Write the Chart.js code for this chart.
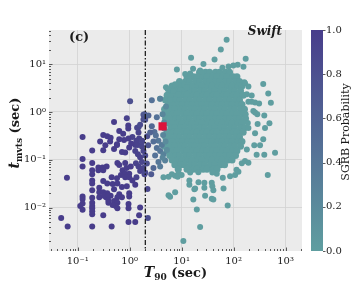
<!DOCTYPE html>
<html>
<head>
<meta charset="utf-8">
<script src="https://cdn.jsdelivr.net/npm/chart.js@4.4.1/dist/chart.umd.min.js"></script>
<style>
  html, body { margin: 0; padding: 0; background: #ffffff; }
  #wrap { width: 360px; height: 288px; }
</style>
</head>
<body>
<div id="wrap"><canvas id="chart" width="360" height="288"></canvas></div>
<script>
// T90 vs minimum variability timescale (Swift), coloured by SGRB probability

const xRange = [0.028, 2075];
const yRange = [0.00123, 52];
const xTicks = [0.1, 1, 10, 100, 1000];
const yTicks = [0.01, 0.1, 1, 10];
const cbTicks = [0, 0.2, 0.4, 0.6, 0.8, 1.0];
const t90Cut = 2;            // dash-dot line, seconds
const lowColor = [95, 158, 160];   // probability 0
const highColor = [72, 61, 139];   // probability 1

// short + transitional bursts: [T90, t_mvts, SGRB probability]
const shortBursts = [
  [1.02, 1.68, 0.8], [0.50, 0.62, 1], [0.88, 0.74, 0.95], [0.94, 0.52, 1], [0.94, 0.45, 1],
  [0.63, 0.40, 1], [0.75, 0.35, 1], [0.31, 0.33, 1], [0.37, 0.31, 1], [0.124, 0.30, 1],
  [0.43, 0.29, 1], [1.13, 0.30, 0.95], [1.48, 0.48, 0.85], [0.78, 0.26, 1], [0.95, 0.28, 1],
  [1.35, 0.25, 0.95], [0.19, 0.156, 1], [0.31, 0.159, 1], [0.50, 0.168, 1], [0.57, 0.204, 1],
  [0.71, 0.145, 1], [0.82, 0.141, 1], [0.98, 0.18, 1], [1.28, 0.204, 0.95], [1.28, 0.152, 0.95],
  [0.124, 0.104, 1], [0.19, 0.086, 1], [0.124, 0.072, 1], [0.25, 0.069, 1], [0.30, 0.069, 1],
  [0.36, 0.072, 1], [0.25, 0.060, 1], [0.31, 0.060, 1], [0.58, 0.086, 1], [0.63, 0.078, 1],
  [0.82, 0.086, 1], [0.73, 0.060, 1], [0.87, 0.067, 1], [1.05, 0.072, 1], [1.32, 0.084, 0.95],
  [0.19, 0.060, 1], [0.19, 0.050, 1], [0.19, 0.037, 1], [0.19, 0.032, 1], [0.45, 0.043, 1],
  [0.57, 0.041, 1], [0.68, 0.048, 1], [0.82, 0.051, 1], [0.98, 0.051, 1], [0.82, 0.043, 1],
  [0.98, 0.043, 1], [1.13, 0.037, 1], [1.35, 0.043, 0.95], [0.062, 0.042, 1], [0.31, 0.036, 1],
  [0.37, 0.032, 1], [0.47, 0.031, 1], [0.58, 0.032, 1], [0.71, 0.027, 1], [0.88, 0.028, 1],
  [1.28, 0.030, 1], [0.19, 0.023, 1], [0.26, 0.026, 1], [0.26, 0.021, 1], [0.31, 0.021, 1],
  [0.37, 0.020, 1], [0.50, 0.024, 1], [0.63, 0.019, 1], [0.98, 0.020, 1], [0.124, 0.017, 1],
  [0.19, 0.016, 1], [0.26, 0.0164, 1], [0.35, 0.0164, 1], [0.43, 0.0176, 1], [0.71, 0.0164, 1],
  [0.124, 0.015, 1], [0.19, 0.0126, 1], [0.32, 0.0176, 1], [0.39, 0.018, 1], [0.58, 0.0164, 1],
  [0.98, 0.017, 1], [0.39, 0.014, 1], [0.39, 0.0126, 1], [0.50, 0.0137, 1], [0.58, 0.0126, 1],
  [0.54, 0.0108, 1], [0.58, 0.0097, 1], [0.47, 0.0113, 1], [0.112, 0.0108, 1], [0.124, 0.0122, 1],
  [0.124, 0.009, 1], [0.19, 0.0108, 1], [0.19, 0.0097, 1], [0.19, 0.0084, 1], [0.19, 0.0072, 1],
  [0.95, 0.0118, 1], [0.95, 0.0097, 1], [0.31, 0.0069, 1], [1.52, 0.0069, 1], [0.048, 0.006, 1],
  [0.064, 0.004, 1], [0.19, 0.004, 1], [0.45, 0.004, 1], [0.95, 0.005, 1], [1.28, 0.005, 1],
  [2.24, 0.006, 0.85], [2.2, 0.0245, 0.9], [1.59, 0.010, 1], [1.93, 0.050, 0.9], [2.6, 0.050, 0.7],
  // close to the cut
  [1.48, 0.37, 0.95], [1.52, 0.28, 0.95], [1.37, 0.24, 0.95], [1.72, 0.25, 0.9], [1.44, 0.204, 0.95],
  [1.72, 0.19, 0.9], [1.84, 0.152, 0.9], [1.44, 0.13, 0.95], [1.59, 0.113, 0.95], [1.99, 0.122, 0.85],
  [1.72, 0.090, 0.9], [2.14, 0.083, 0.8], [1.48, 0.072, 0.95], [1.84, 0.067, 0.9], [1.59, 0.058, 0.95],
  [1.99, 0.054, 0.85], [1.84, 0.87, 0.75], [1.93, 0.90, 0.7], [1.39, 0.47, 0.9], [1.59, 0.54, 0.85],
  [1.84, 0.70, 0.8], [0.27, 0.24, 1], [0.42, 0.24, 1], [0.57, 0.21, 1], [1.07, 0.22, 1],
  [1.74, 0.24, 0.9], [0.34, 0.20, 1], [2.17, 0.31, 0.8], [2.27, 0.20, 0.75], [0.63, 0.27, 1],
  // right of the cut, mixed colours
  [2.3, 0.84, 0.6], [1.99, 0.69, 0.75], [2.67, 0.50, 0.55], [3.0, 0.38, 0.5], [2.48, 0.37, 0.6],
  [3.19, 0.32, 0.45], [3.58, 0.25, 0.4], [2.87, 0.24, 0.5], [4.16, 0.204, 0.35], [3.33, 0.176, 0.45],
  [3.86, 0.152, 0.4], [3.09, 0.122, 0.45], [4.47, 0.13, 0.3], [3.58, 0.090, 0.4], [4.8, 0.097, 0.3],
  [3.86, 0.072, 0.35], [2.87, 0.067, 0.55], [2.67, 1.76, 0.45], [3.33, 0.78, 0.45], [3.86, 1.89, 0.3],
  [4.3, 0.9, 0.25], [4.6, 0.6, 0.2], [4.4, 0.33, 0.25], [4.9, 0.24, 0.2], [4.3, 0.11, 0.25],
  [5.2, 0.16, 0.15], [5.0, 1.3, 0.2], [4.6, 0.45, 0.25]
];

// dense long-burst cloud, read row by row: t_mvts of each row, then its T90 values
const cloudTmv = [6.79, 5.43, 4.35, 3.48, 2.79, 2.23, 1.78, 1.43, 1.14, 0.915, 0.732,
  0.586, 0.469, 0.375, 0.300, 0.240, 0.192, 0.154, 0.123, 0.0986, 0.0789, 0.0632];
const cloudT90 = [
  [22.1, 28.9, 34.5, 45.0, 53.8, 70.1, 83.6],
  [12.7, 16.7, 19.8, 25.9, 30.8, 40.3, 48.0, 62.9, 74.9, 98.0, 116],
  [9.1, 11.9, 14.2, 18.6, 22.1, 28.9, 34.5, 45.0, 53.8, 70.1, 83.6, 109, 130],
  [6.55, 8.6, 10.2, 13.3, 15.9, 20.8, 24.7, 32.4, 38.5, 50.3, 60.0, 78.5, 93.4, 122, 145],
  [6.2, 7.4, 9.6, 11.4, 14.9, 17.8, 23.3, 27.6, 36.1, 43.2, 56.3, 67.1, 87.8, 104, 136],
  [5.25, 6.9, 8.2, 10.8, 12.7, 16.7, 19.8, 25.9, 30.8, 40.3, 48.0, 62.9, 74.9, 98.0, 116, 153],
  [4.9, 5.9, 7.7, 9.1, 11.9, 14.2, 18.6, 22.1, 28.9, 34.5, 45.0, 53.8, 70.1, 83.6, 109, 130],
  [5.5, 6.55, 8.6, 10.2, 13.3, 15.9, 20.8, 24.7, 32.4, 38.5, 50.3, 60.0, 78.5, 93.4, 122, 145],
  [4.7, 6.2, 7.4, 9.6, 11.4, 14.9, 17.8, 23.3, 27.6, 36.1, 43.2, 56.3, 67.1, 87.8, 104, 136, 162],
  [5.25, 6.9, 8.2, 10.8, 12.7, 16.7, 19.8, 25.9, 30.8, 40.3, 48.0, 62.9, 74.9, 98.0, 116, 153],
  [4.9, 5.9, 7.7, 9.1, 11.9, 14.2, 18.6, 22.1, 28.9, 34.5, 45.0, 53.8, 70.1, 83.6, 109, 130, 170],
  [5.5, 6.55, 8.6, 10.2, 13.3, 15.9, 20.8, 24.7, 32.4, 38.5, 50.3, 60.0, 78.5, 93.4, 122, 145],
  [6.2, 7.4, 9.6, 11.4, 14.9, 17.8, 23.3, 27.6, 36.1, 43.2, 56.3, 67.1, 87.8, 104, 136, 162],
  [5.25, 6.9, 8.2, 10.8, 12.7, 16.7, 19.8, 25.9, 30.8, 40.3, 48.0, 62.9, 74.9, 98.0, 116, 153],
  [4.9, 5.9, 7.7, 9.1, 11.9, 14.2, 18.6, 22.1, 28.9, 34.5, 45.0, 53.8, 70.1, 83.6, 109, 130],
  [5.5, 6.55, 8.6, 10.2, 13.3, 15.9, 20.8, 24.7, 32.4, 38.5, 50.3, 60.0, 78.5, 93.4, 122, 145],
  [4.7, 6.2, 7.4, 9.6, 11.4, 14.9, 17.8, 23.3, 27.6, 36.1, 43.2, 56.3, 67.1, 87.8, 104, 136],
  [5.25, 6.9, 8.2, 10.8, 12.7, 16.7, 19.8, 25.9, 30.8, 40.3, 48.0, 62.9, 74.9, 98.0, 116],
  [5.9, 7.7, 9.1, 11.9, 14.2, 18.6, 22.1, 28.9, 34.5, 45.0, 53.8, 70.1, 83.6, 109],
  [6.55, 8.6, 10.2, 13.3, 15.9, 20.8, 24.7, 32.4, 38.5, 50.3, 60.0, 78.5, 93.4],
  [7.4, 9.6, 11.4, 14.9, 17.8, 23.3, 27.6, 36.1, 43.2, 56.3, 67.1],
  [8.6, 12.7, 16.7, 19.8, 25.9, 30.8, 40.3, 48.0]
];

// scattered long bursts around the cloud: [T90, t_mvts]
const longBursts = [
  [73.5, 32.6], [56.8, 20.4], [15.2, 13.6], [43, 12.5], [171, 13], [26.3, 10.1], [61, 8.4],
  [80, 9.0], [99, 9.4], [120, 9.7], [155, 8.8], [8.1, 7.75], [16.6, 8.0], [22.7, 7.4],
  [24.4, 6.9], [11.7, 6.2], [14.6, 6.4], [5.0, 3.3], [5.4, 3.0], [7.5, 3.8], [11.3, 3.7],
  [12.6, 3.3], [3.86, 1.89], [6.0, 1.78], [6.96, 2.75], [8.7, 2.36],
  [372, 3.85], [465, 2.44], [522, 1.56], [161, 4.2], [259, 1.58], [193, 1.63], [166, 3.98],
  [193, 3.43], [180, 2.36], [223, 2.2], [310, 1.51], [240, 1.05], [286, 0.9], [490, 0.58],
  [403, 0.46], [193, 0.46], [259, 0.36], [323, 0.2], [372, 0.27], [250, 0.2], [180, 0.163],
  [628, 0.14], [390, 0.127], [278, 0.127], [455, 0.048], [114, 0.062], [171, 0.90], [188, 0.59],
  [290, 0.56], [390, 0.84], [259, 0.97], [223, 1.63],
  [77, 0.011], [19.6, 0.0091], [22.7, 0.0039], [10.8, 0.002], [5.6, 0.018], [6.0, 0.0168],
  [7.5, 0.021], [14.1, 0.030], [14.1, 0.037], [17.6, 0.024], [21.1, 0.034], [27.4, 0.033],
  [38, 0.033], [39, 0.028], [28.3, 0.0176], [38, 0.0152], [40.8, 0.0147], [16.8, 0.0147],
  [64, 0.025], [4.47, 0.043], [5.6, 0.044], [6.5, 0.05], [7.5, 0.046], [8.7, 0.051],
  [8.4, 0.044], [14.6, 0.054], [21, 0.055], [47.5, 0.051], [39, 0.054], [18.2, 0.025],
  [27.4, 0.026], [40.8, 0.023], [62, 0.042], [85.7, 0.045], [107, 0.048], [124, 0.056],
  [144, 0.084], [166, 0.094], [193, 0.087], [10, 0.048]
];

// highlighted burst (red square)
const markT90 = [4.3];
const markTmv = [0.5];

const FAM = '"DejaVu Serif", serif';
const INK = "#1a1a1a";

function probColor(p) {
    const c = lowColor.map((v, i) => Math.round(v + (highColor[i] - v) * p));
    return "rgb(" + c.join(",") + ")";
}

const supers = { "-": "\u207b", "0": "\u2070", "1": "\u00b9", "2": "\u00b2", "3": "\u00b3" };
function powLabel(v) {
    const e = String(Math.round(Math.log10(v)));
    return "10" + e.split("").map(ch => supers[ch]).join("");
}

const shortData = shortBursts.map(b => ({ x: b[0], y: b[1], p: b[2] }));
const cloudData = [];
cloudT90.forEach((row, i) => row.forEach(t => cloudData.push({ x: t, y: cloudTmv[i], p: 0 })));
const longData = longBursts.map(b => ({ x: b[0], y: b[1], p: 0 }));
const markData = markT90.map((t, i) => ({ x: t, y: markTmv[i] }));

// draw a run of text pieces [text, font, dy] centred at (cx, cy)
function drawRun(ctx, parts, cx, cy) {
    let total = 0;
    parts.forEach(p => { ctx.font = p[1]; total += ctx.measureText(p[0]).width; });
    let x = cx - total / 2;
    parts.forEach(p => {
        ctx.font = p[1];
        ctx.fillText(p[0], x, cy + p[2]);
        x += ctx.measureText(p[0]).width;
    });
}

const decor = {
    id: "decor",
    beforeDraw(chart) {
        const { ctx, chartArea: a } = chart;
        ctx.save();
        ctx.fillStyle = "#ebebeb";
        ctx.fillRect(a.left, a.top, a.right - a.left, a.bottom - a.top);
        ctx.restore();
    },
    afterDatasetsDraw(chart) {
        const { ctx, chartArea: a, scales } = chart;
        ctx.save();
        // T90 = 2 s cut
        const cx = scales.x.getPixelForValue(t90Cut);
        ctx.strokeStyle = "#111";
        ctx.lineWidth = 1.2;
        ctx.setLineDash([5, 2, 1.5, 2]);
        ctx.beginPath();
        ctx.moveTo(cx, a.top);
        ctx.lineTo(cx, a.bottom);
        ctx.stroke();
        ctx.setLineDash([]);

        // inward log ticks on bottom and left
        ctx.strokeStyle = "#333";
        ctx.lineWidth = 0.8;
        for (let d = -3; d <= 3; d++) {
            for (let k = 1; k <= 9; k++) {
                const v = k * Math.pow(10, d);
                const len = k === 1 ? 3.5 : 2;
                if (v >= xRange[0] && v <= xRange[1]) {
                    const px = Math.round(scales.x.getPixelForValue(v)) + 0.5;
                    ctx.beginPath(); ctx.moveTo(px, a.bottom); ctx.lineTo(px, a.bottom - len); ctx.stroke();
                }
                if (v >= yRange[0] && v <= yRange[1]) {
                    const py = Math.round(scales.y.getPixelForValue(v)) + 0.5;
                    ctx.beginPath(); ctx.moveTo(a.left, py); ctx.lineTo(a.left + len, py); ctx.stroke();
                }
            }
        }
        ctx.restore();
    },
    afterDraw(chart) {
        const { ctx, chartArea: a, scales } = chart;
        const cb = scales.cb;
        ctx.save();
        // colour bar
        const bx = cb.left + 9, bw = 12;
        const g = ctx.createLinearGradient(0, a.bottom, 0, a.top);
        g.addColorStop(0, probColor(0));
        g.addColorStop(1, probColor(1));
        ctx.fillStyle = g;
        ctx.fillRect(bx, a.top, bw, a.bottom - a.top);
        ctx.strokeStyle = "#333";
        ctx.lineWidth = 0.8;
        cbTicks.forEach(v => {
            const py = Math.round(cb.getPixelForValue(v)) + 0.5;
            ctx.beginPath(); ctx.moveTo(bx + bw, py); ctx.lineTo(bx + bw + 2.5, py); ctx.stroke();
        });

        ctx.fillStyle = INK;
        ctx.textBaseline = "alphabetic";
        // x title
        drawRun(ctx, [
            ["T", "italic bold 14px " + FAM, 0],
            ["90", "bold 9px " + FAM, 3],
            [" (sec)", "bold 13px " + FAM, 0]
        ], (a.left + a.right) / 2, 277);
        // y title
        ctx.save();
        ctx.translate(19, 133);
        ctx.rotate(-Math.PI / 2);
        drawRun(ctx, [
            ["t", "italic bold 14px " + FAM, 0],
            ["mvts", "bold 9px " + FAM, 3],
            [" (sec)", "bold 13px " + FAM, 0]
        ], 0, 0);
        ctx.restore();
        // colour bar title
        ctx.save();
        ctx.translate(349, 132);
        ctx.rotate(-Math.PI / 2);
        drawRun(ctx, [["SGRB Probability", "11px " + FAM, 0]], 0, 0);
        ctx.restore();
        // panel labels
        ctx.textAlign = "left";
        ctx.font = "bold 13px " + FAM;
        ctx.fillText("(c)", 69, 41);
        ctx.textAlign = "right";
        ctx.font = "italic bold 12px " + FAM;
        ctx.fillText("Swift", 282, 35);
        ctx.restore();
    }
};

const tickFont = { family: FAM, size: 10 };

new Chart(document.getElementById("chart"), {
    type: "scatter",
    data: {
        datasets: [
            {
                data: markData,
                pointStyle: "rect",
                pointRadius: 5.8,
                backgroundColor: "#dc143c",
                borderWidth: 0,
                order: 0
            },
            {
                data: shortData,
                pointRadius: 3,
                borderWidth: 0,
                backgroundColor: ctx => probColor(ctx.raw ? ctx.raw.p : 1),
                order: 1
            },
            {
                data: longData,
                pointRadius: 3,
                borderWidth: 0,
                backgroundColor: probColor(0),
                order: 2
            },
            {
                data: cloudData,
                pointRadius: 3.5,
                borderWidth: 0,
                backgroundColor: probColor(0),
                order: 3
            }
        ]
    },
    options: {
        responsive: false,
        animation: false,
        devicePixelRatio: 1,
        layout: { padding: { top: 12, left: 0, right: 0, bottom: 0 } },
        plugins: {
            legend: { display: false },
            tooltip: { enabled: false }
        },
        scales: {
            x: {
                type: "logarithmic",
                position: "bottom",
                min: xRange[0],
                max: xRange[1],
                afterBuildTicks: s => { s.ticks = xTicks.map(v => ({ value: v })); },
                afterFit: s => { s.height = 37; },
                grid: { color: "#d2d2d2", lineWidth: 0.8, drawTicks: false },
                border: { display: false },
                ticks: {
                    font: tickFont, color: INK, padding: 4,
                    maxRotation: 0, autoSkip: false,
                    callback: v => powLabel(v)
                }
            },
            y: {
                type: "logarithmic",
                position: "left",
                min: yRange[0],
                max: yRange[1],
                afterBuildTicks: s => { s.ticks = yTicks.map(v => ({ value: v })); },
                afterFit: s => { s.width = 49; },
                grid: { color: "#d2d2d2", lineWidth: 0.8, drawTicks: false },
                border: { display: false },
                ticks: {
                    font: tickFont, color: INK, padding: 3, autoSkip: false,
                    callback: v => powLabel(v)
                }
            },
            cb: {
                type: "linear",
                position: "right",
                min: 0,
                max: 1,
                afterBuildTicks: s => { s.ticks = cbTicks.map(v => ({ value: v })); },
                afterFit: s => { s.width = 58; },
                grid: { display: false, drawTicks: false },
                border: { display: false },
                ticks: {
                    font: tickFont, color: INK, padding: 24, autoSkip: false,
                    callback: v => v.toFixed(1)
                }
            }
        }
    },
    plugins: [decor]
});
</script>
</body>
</html>
